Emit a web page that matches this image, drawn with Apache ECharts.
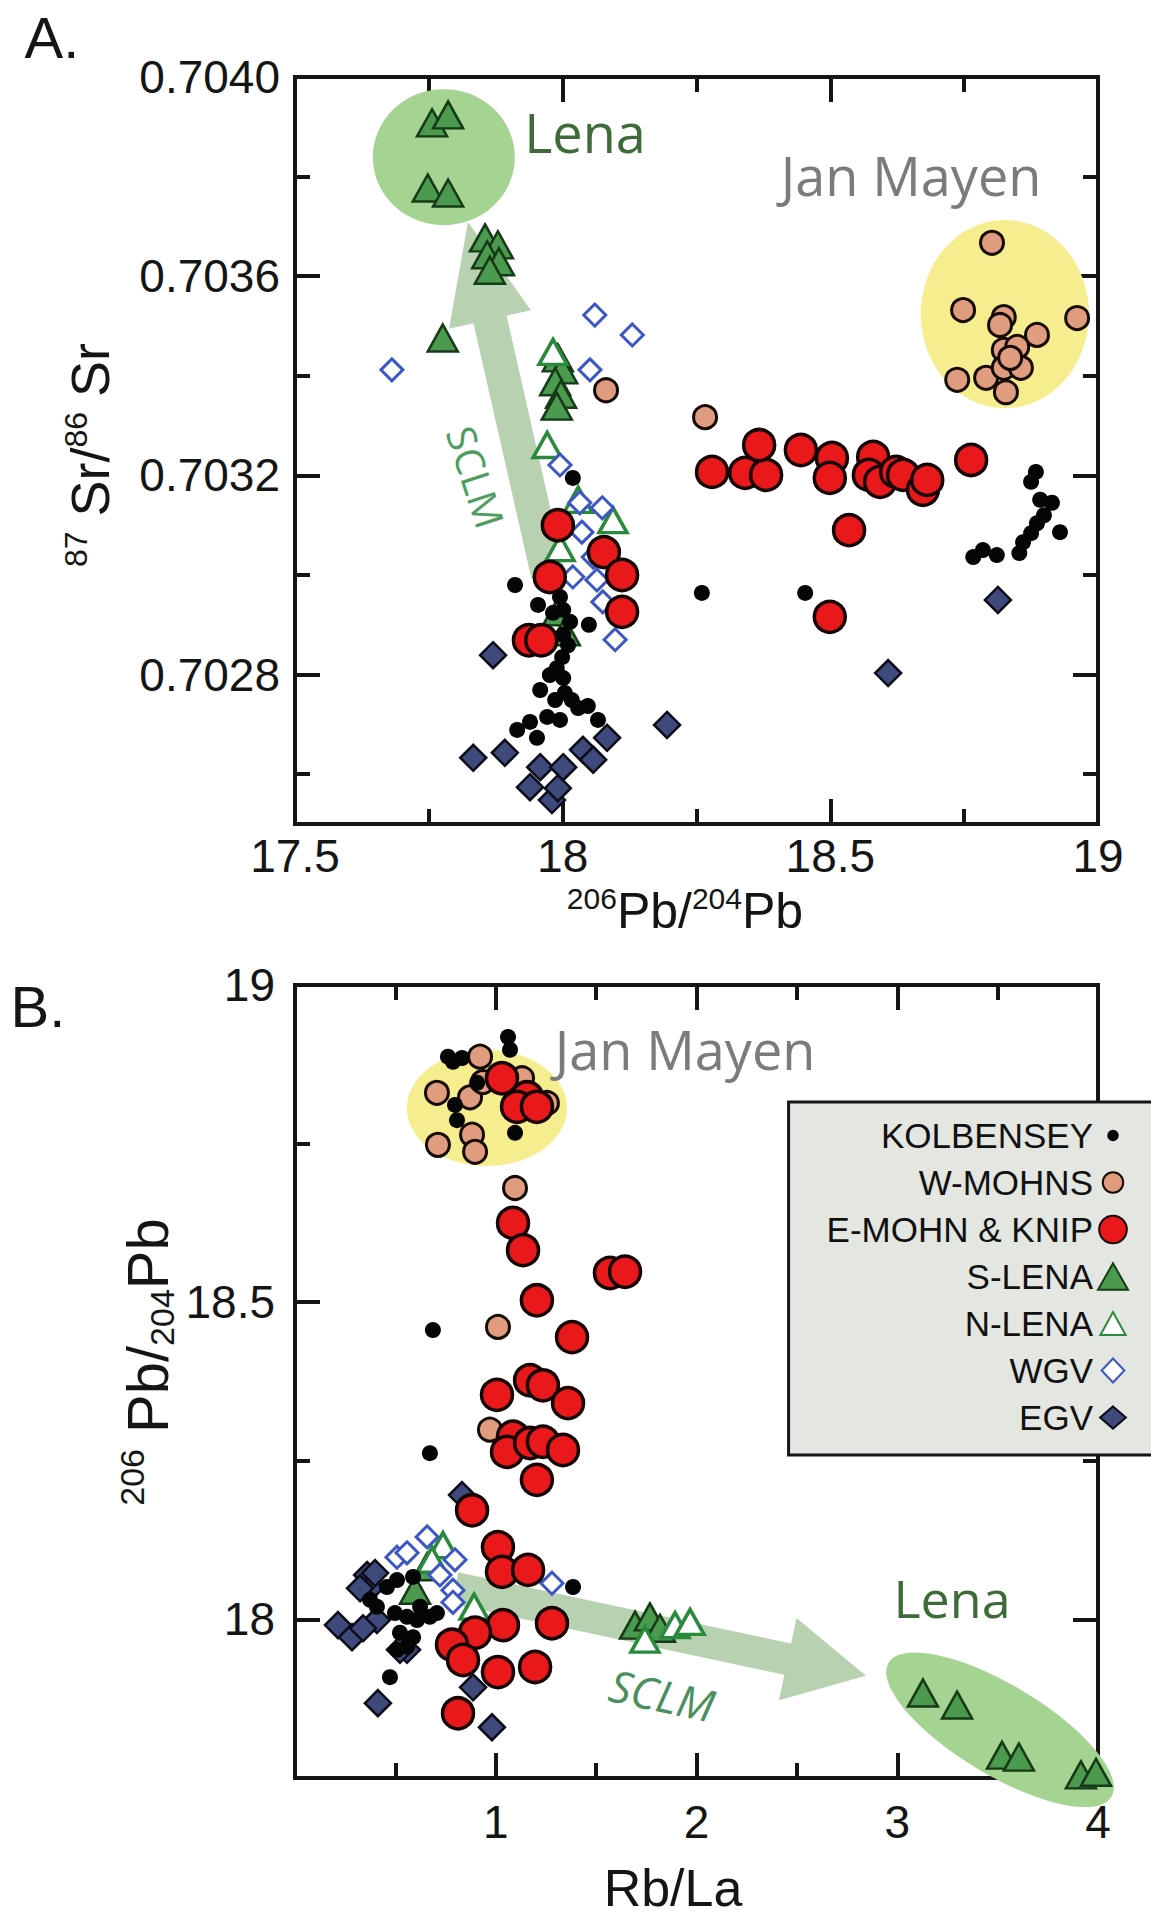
<!DOCTYPE html>
<html>
<head>
<meta charset="utf-8">
<script src="https://cdn.jsdelivr.net/npm/echarts@6/dist/echarts.min.js"></script>
<style>
  html, body { margin: 0; padding: 0; background: #fff; }
  #chart { width: 1151px; height: 1917px; }
</style>
</head>
<body>
<div id="chart"></div>
<script>
/* Sr–Pb 同位素雙圖（A: 206Pb/204Pb–87Sr/86Sr，B: Rb/La–206Pb/204Pb）
 * 數值皆由原圖目測讀出；註記（圈、箭頭）以資料座標給定，經軸換算成像素。
 */
(function () {
  "use strict";

  // ── 資料：A 圖 [206Pb/204Pb, 87Sr/86Sr] ──────────────────
  var aKolbensey = [
    [18.019, 0.703195], [17.911, 0.702980], [17.954, 0.702940], [17.995, 0.702956], [18.049, 0.702900],
    [17.982, 0.702924], [18.001, 0.702930], [18.014, 0.702906], [18.001, 0.702880], [18.010, 0.702859],
    [17.999, 0.702835], [17.989, 0.702813], [17.976, 0.702799], [17.958, 0.702769], [18.001, 0.702793],
    [18.004, 0.702763], [18.017, 0.702749], [18.029, 0.702733], [18.047, 0.702737], [17.971, 0.702715],
    [17.939, 0.702705], [17.915, 0.702689], [17.952, 0.702673], [18.066, 0.702709], [17.995, 0.702709],
    [17.986, 0.702749],
    [18.260, 0.702964], [18.453, 0.702964], [18.767, 0.703036], [18.785, 0.703050], [18.811, 0.703040],
    [18.853, 0.703044], [18.860, 0.703066], [18.875, 0.703084], [18.886, 0.703104], [18.899, 0.703120],
    [18.892, 0.703151], [18.914, 0.703145], [18.929, 0.703086], [18.875, 0.703187], [18.884, 0.703207]
  ];
  var aWMohns = [
    [18.802, 0.703667], [18.748, 0.703532], [18.824, 0.703518], [18.817, 0.703502], [18.886, 0.703482],
    [18.961, 0.703516], [18.824, 0.703452], [18.849, 0.703458], [18.737, 0.703392], [18.791, 0.703396],
    [18.824, 0.703416], [18.856, 0.703416], [18.828, 0.703367], [18.836, 0.703436], [18.081, 0.703371],
    [18.266, 0.703317]
  ];
  var aEMohn = [
    [18.279, 0.703207], [18.341, 0.703205], [18.380, 0.703201], [18.367, 0.703261], [18.445, 0.703251],
    [18.503, 0.703235], [18.499, 0.703195], [18.580, 0.703237], [18.572, 0.703201], [18.593, 0.703187],
    [18.623, 0.703207], [18.636, 0.703201], [18.673, 0.703171], [18.681, 0.703191], [18.763, 0.703231],
    [18.535, 0.703090], [18.499, 0.702916], [17.991, 0.703100], [18.077, 0.703046], [17.976, 0.702996],
    [18.111, 0.703000], [18.111, 0.702926], [17.937, 0.702869], [17.960, 0.702869]
  ];
  var aSLena = [
    [17.756, 0.703908], [17.786, 0.703924], [17.748, 0.703777], [17.786, 0.703767], [17.855, 0.703677],
    [17.879, 0.703663], [17.859, 0.703643], [17.881, 0.703629], [17.864, 0.703612], [17.776, 0.703476],
    [17.991, 0.703436], [17.999, 0.703412], [17.986, 0.703388], [17.997, 0.703363], [17.989, 0.703339],
    [17.991, 0.702926], [18.004, 0.702886]
  ];
  var aNLena = [
    [17.971, 0.703261], [17.995, 0.703054], [18.094, 0.703110], [18.029, 0.703151], [17.982, 0.703448]
  ];
  var aWgv = [
    [17.681, 0.703412], [18.060, 0.703522], [18.130, 0.703482], [18.051, 0.703412], [17.995, 0.703221],
    [18.032, 0.703145], [18.074, 0.703135], [18.036, 0.703086], [18.057, 0.703036], [18.064, 0.702990],
    [18.075, 0.702946], [18.098, 0.702870], [18.019, 0.702996]
  ];
  var aEgv = [
    [17.870, 0.702839], [17.833, 0.702633], [17.892, 0.702643], [17.939, 0.702574], [17.980, 0.702548],
    [17.958, 0.702614], [17.991, 0.702572], [18.001, 0.702614], [18.038, 0.702649], [18.057, 0.702629],
    [18.083, 0.702673], [18.195, 0.702699], [18.608, 0.702803], [18.813, 0.702950]
  ];

  // ── 資料：B 圖 [Rb/La, 206Pb/204Pb] ──────────────────
  var bKolbensey = [
    [1.061, 18.918], [1.071, 18.898], [0.762, 18.887], [0.787, 18.879], [0.832, 18.885], [0.797, 18.811],
    [0.807, 18.787], [1.096, 18.767], [0.907, 18.846], [0.687, 18.456], [0.672, 18.262], [1.385, 18.051],
    [0.473, 17.909], [0.508, 18.062], [0.374, 18.031], [0.498, 18.010], [0.558, 18.004], [0.608, 17.999],
    [0.672, 18.004], [0.707, 18.010], [0.523, 17.979], [0.588, 17.972], [0.558, 17.957], [0.508, 17.952],
    [0.623, 18.020], [0.588, 18.067], [0.458, 18.051], [0.408, 18.020]
  ];
  var bWMohns = [
    [0.922, 18.887], [0.707, 18.830], [0.872, 18.823], [0.936, 18.847], [1.131, 18.853], [1.255, 18.814],
    [0.882, 18.764], [0.897, 18.737], [0.712, 18.748], [1.096, 18.680], [1.011, 18.461], [0.971, 18.299]
  ];
  var bEMohn = [
    [1.031, 18.853], [1.156, 18.823], [1.106, 18.808], [1.205, 18.808], [1.086, 18.625], [1.136, 18.582],
    [1.205, 18.503], [1.380, 18.445], [1.569, 18.546], [1.644, 18.548], [1.171, 18.377], [1.235, 18.369],
    [1.006, 18.354], [1.360, 18.341], [1.086, 18.288], [1.056, 18.264], [1.171, 18.278], [1.235, 18.280],
    [1.335, 18.267], [1.205, 18.220], [0.882, 18.172], [1.011, 18.114], [1.031, 18.075], [1.161, 18.078],
    [1.280, 17.994], [1.036, 17.991], [0.897, 17.979], [0.782, 17.960], [0.837, 17.936], [1.011, 17.917],
    [1.196, 17.925], [0.812, 17.852]
  ];
  var bSLena = [
    [0.658, 18.083], [0.598, 18.046], [1.694, 17.991], [1.768, 18.004], [1.818, 17.986], [3.128, 17.884],
    [3.298, 17.865], [3.522, 17.786], [3.606, 17.783], [3.915, 17.755], [3.990, 17.759]
  ];
  var bNLena = [
    [0.737, 18.117], [0.892, 18.020], [0.682, 18.094], [1.743, 17.968], [1.893, 17.991], [1.968, 17.996]
  ];
  var bWgv = [
    [0.658, 18.130], [0.797, 18.094], [0.508, 18.098], [0.558, 18.105], [0.787, 18.046], [0.787, 18.027],
    [1.280, 18.057], [0.722, 18.070]
  ];
  var bEgv = [
    [0.832, 18.196], [0.359, 18.070], [0.374, 18.049], [0.324, 18.049], [0.408, 17.999], [0.214, 17.991],
    [0.284, 17.972], [0.339, 17.986], [0.558, 17.952], [0.523, 17.952], [0.887, 17.893], [0.413, 17.868],
    [0.981, 17.830], [0.399, 18.073]
  ];

  // ── 軸範圍與刻度 ──────────────────
  var aXRange = [17.5, 19], aYRange = [0.7025, 0.7040];
  var aXMajor = [17.5, 18, 18.5, 19], aXMinor = [17.75, 18.25, 18.75];
  var aYMajor = [0.7028, 0.7032, 0.7036, 0.7040], aYMinor = [0.7026, 0.7030, 0.7034, 0.7038];
  var bXRange = [0, 4], bYRange = [17.75, 19];
  var bXMajor = [1, 2, 3, 4], bXMinor = [0.5, 1.5, 2.5, 3.5];
  var bYMajor = [18, 18.5, 19], bYMinor = [18.25, 18.75];

  // ── 註記（資料座標）：圈 [cx, cy, rx, ry, 傾角°]、箭頭 [尾x, 尾y, 頭x, 頭y] ──
  var aEllipses = [[17.778, 0.703839, 0.1326, 0.0001365, 0], [18.826, 0.703524, 0.157, 0.0001888, 0]];
  var bEllipses = [[0.956, 18.806, 0.3985, 0.0914, 0], [3.512, 17.826, 0.6476, 0.0709, 31]];
  var aArrow = [[17.9726, 0.70300, 17.823, 0.703709]];
  var bArrow = [[0.797, 18.0495, 2.844, 17.911]];

  var seriesNames = ["KOLBENSEY", "W-MOHNS", "E-MOHN & KNIP", "S-LENA", "N-LENA", "WGV", "EGV"];

  // ── 樣式 ──────────────────
  var INK = "#151515";
  var SANS = "'Liberation Sans', Arial, Helvetica, sans-serif";
  var HUMAN = "'Open Sans', 'Noto Sans', sans-serif";
  var GREEN_FILL = "#a4d392", YELLOW_FILL = "#f6ed8f", ARROW = "#b8d2b1";

  var STYLE = {
    "KOLBENSEY":     { symbol: "circle",   size: 16,       itemStyle: { color: "#050505", opacity: 1 } },
    "W-MOHNS":       { symbol: "circle",   size: 23,       itemStyle: { color: "#df9c7f", borderColor: "#140a06", borderWidth: 3, opacity: 1 } },
    "E-MOHN & KNIP": { symbol: "circle",   size: 31,       itemStyle: { color: "#e8181b", borderColor: "#160404", borderWidth: 3.5, opacity: 1 } },
    "S-LENA":        { symbol: "triangle", size: [30, 27], itemStyle: { color: "#4b9a50", borderColor: "#163a16", borderWidth: 2.5, opacity: 1 } },
    "N-LENA":        { symbol: "triangle", size: [28, 25], itemStyle: { color: "#ffffff", borderColor: "#2a8a3c", borderWidth: 3.5, opacity: 1 } },
    "WGV":           { symbol: "diamond",  size: 22,       itemStyle: { color: "#ffffff", borderColor: "#3c56c6", borderWidth: 3, opacity: 1 } },
    "EGV":           { symbol: "diamond",  size: 26,       itemStyle: { color: "#3d4a7b", borderColor: "#0c0c18", borderWidth: 2.5, opacity: 1 } }
  };

  // 圖例圖示：在 100×100 框內畫不同大小（M0 0 M100 100 撐住外框）
  function circ(r) { return "path://M0 0M100 100M" + (50 - r) + " 50A" + r + " " + r + " 0 1 1 " + (50 + r) + " 50A" + r + " " + r + " 0 1 1 " + (50 - r) + " 50Z"; }
  function tri(w, h) { return "path://M0 0M100 100M50 " + (50 - h / 2) + "L" + (50 + w / 2) + " " + (50 + h / 2) + "L" + (50 - w / 2) + " " + (50 + h / 2) + "Z"; }
  function dia(w, h) { return "path://M0 0M100 100M50 " + (50 - h / 2) + "L" + (50 + w / 2) + " 50L50 " + (50 + h / 2) + "L" + (50 - w / 2) + " 50Z"; }
  var legendIcons = [circ(19), circ(34), circ(46), tri(100, 88), tri(84, 76), dia(76, 80), dia(86, 74)];

  // ── 軸：每邊兩支（長刻度含標籤 / 短刻度），上、右各再兩支 ──
  function axis(grid, pos, range, ticks, len, line, label) {
    var ax = {
      type: "value", gridIndex: grid, position: pos, min: range[0], max: range[1], silent: true,
      axisLine: { show: line, onZero: false, lineStyle: { color: INK, width: 4, cap: "square" } },
      axisTick: { show: true, inside: true, length: len, customValues: ticks, lineStyle: { color: INK, width: 4 } },
      axisLabel: { show: false }, splitLine: { show: false }, minorTick: { show: false }
    };
    if (label) ax.axisLabel = Object.assign({ show: true, color: INK, fontFamily: SANS, fontSize: 46 }, label);
    return ax;
  }
  function axesFor(grid, range, major, minor, near, far, label) {
    return [
      axis(grid, near, range, major, 25, true, label),
      axis(grid, near, range, minor, 15, false),
      axis(grid, far, range, major, 25, true),
      axis(grid, far, range, minor, 15, false)
    ];
  }

  var xAxes = [].concat(
    axesFor(0, aXRange, aXMajor, aXMinor, "bottom", "top", { customValues: aXMajor, margin: 9 }),
    axesFor(1, bXRange, bXMajor, bXMinor, "bottom", "top", { customValues: bXMajor, margin: 21 })
  );
  var yAxes = [].concat(
    axesFor(0, aYRange, aYMajor, aYMinor, "left", "right",
      { customValues: aYMajor, margin: 15, formatter: function (v) { return v.toFixed(4); } }),
    axesFor(1, bYRange, bYMajor, bYMinor, "left", "right", { customValues: bYMajor, margin: 20 })
  );

  // ── 系列 ──────────────────
  function scatter(name, data, ax) {
    var s = STYLE[name];
    return { name: name, type: "scatter", data: data, xAxisIndex: ax, yAxisIndex: ax,
      symbol: s.symbol, symbolSize: s.size, itemStyle: s.itemStyle, z: 3, clip: false, silent: true };
  }
  function ellipses(data, colors, ax) {
    return { type: "custom", data: data, xAxisIndex: ax, yAxisIndex: ax, z: 1, silent: true, clip: false,
      renderItem: function (params, api) {
        var c = api.coord([api.value(0), api.value(1)]);
        var s = api.size([api.value(2), api.value(3)]);
        return { type: "circle", x: c[0], y: c[1], rotation: -api.value(4) * Math.PI / 180,
          scaleX: 1, scaleY: s[1] / s[0], shape: { cx: 0, cy: 0, r: s[0] },
          style: { fill: colors[params.dataIndex] } };
      } };
  }
  function arrow(data, dims, ax) {
    return { type: "custom", data: data, xAxisIndex: ax, yAxisIndex: ax, z: 1, silent: true, clip: false,
      renderItem: function (params, api) {
        var p0 = api.coord([api.value(0), api.value(1)]), p1 = api.coord([api.value(2), api.value(3)]);
        var dx = p1[0] - p0[0], dy = p1[1] - p0[1], L = Math.sqrt(dx * dx + dy * dy);
        var ux = dx / L, uy = dy / L, nx = -uy, ny = ux;
        var bx = p1[0] - ux * dims.head, by = p1[1] - uy * dims.head;
        var sw = dims.shaft, hw = dims.wing;
        return { type: "polygon", shape: { points: [
          [p0[0] + nx * sw, p0[1] + ny * sw], [bx + nx * sw, by + ny * sw], [bx + nx * hw, by + ny * hw],
          [p1[0], p1[1]],
          [bx - nx * hw, by - ny * hw], [bx - nx * sw, by - ny * sw], [p0[0] - nx * sw, p0[1] - ny * sw]
        ] }, style: { fill: ARROW } };
      } };
  }

  var order = [
    ["EGV", aEgv, bEgv], ["S-LENA", aSLena, bSLena], ["N-LENA", aNLena, bNLena], ["WGV", aWgv, bWgv],
    ["W-MOHNS", aWMohns, bWMohns], ["KOLBENSEY", aKolbensey, bKolbensey], ["E-MOHN & KNIP", aEMohn, bEMohn]
  ];
  var series = [
    ellipses(aEllipses, [GREEN_FILL, YELLOW_FILL], 0),
    arrow(aArrow, { shaft: 17, head: 100, wing: 42 }, 0),
    ellipses(bEllipses, [YELLOW_FILL, GREEN_FILL], 4),
    arrow(bArrow, { shaft: 16, head: 80, wing: 42 }, 4)
  ];
  order.forEach(function (o) { series.push(scatter(o[0], o[1], 0)); });
  order.forEach(function (o) { series.push(scatter(o[0], o[2], 4)); });

  // ── 文字註記 ──────────────────
  function txt(x, y, text, size, fill, extra) {
    var st = Object.assign({ text: text, fontSize: size, fontFamily: HUMAN, fill: fill,
      align: "center", verticalAlign: "middle", textAlign: "center", textVerticalAlign: "middle" }, (extra && extra.style) || {});
    return { type: "text", x: x, y: y, rotation: (extra && extra.rotation) || 0, z: 20, silent: true, style: st };
  }
  var sup = function (fs, lh) { return { fontSize: fs, fontFamily: SANS, fill: INK, verticalAlign: "top", lineHeight: lh }; };
  var graphics = [
    txt(52, 37, "A.", 58, INK, { style: { fontFamily: SANS } }),
    txt(38, 1006, "B.", 58, INK, { style: { fontFamily: SANS } }),
    txt(585, 132, "Lena", 54, "#3f6b3a"),
    txt(911, 175, "Jan Mayen", 54, "#7b7b7b"),
    txt(476, 477, "SCLM", 40, "#4f9d62", { rotation: -72 * Math.PI / 180 }),
    txt(685, 1049, "Jan Mayen", 54, "#7b7b7b"),
    txt(952, 1597, "Lena", 52, "#3f6b3a"),
    txt(662, 1695, "SCLM", 44, "#4b8f5e", { rotation: -12 * Math.PI / 180, style: { fontStyle: "italic" } }),
    // 軸標題
    txt(90, 455, "{s|87} Sr/{s|86} Sr", 54, INK, { rotation: Math.PI / 2,
      style: { fontFamily: SANS, lineHeight: 60, rich: { s: sup(32, 30) } } }),
    txt(685, 911, "{s|206}Pb/{s|204}Pb", 50, INK,
      { style: { fontFamily: SANS, lineHeight: 56, rich: { s: sup(30, 28) } } }),
    txt(147, 1362, "{s|206} Pb/{b|204}Pb", 58, INK, { rotation: Math.PI / 2,
      style: { fontFamily: SANS, lineHeight: 64, rich: { s: sup(34, 32),
        b: { fontSize: 34, fontFamily: SANS, fill: INK, verticalAlign: "bottom", lineHeight: 40 } } } }),
    txt(673, 1888, "Rb/La", 52, INK, { style: { fontFamily: SANS } })
  ];

  var option = {
    animation: false,
    backgroundColor: "#ffffff",
    textStyle: { fontFamily: SANS },
    grid: [
      { left: 295, top: 77, width: 803, height: 747, containLabel: false },
      { left: 295, top: 985, width: 803, height: 793, containLabel: false }
    ],
    xAxis: xAxes,
    yAxis: yAxes,
    legend: {
      data: seriesNames.map(function (n, i) { return { name: n, icon: legendIcons[i] }; }),
      orient: "vertical", align: "right", right: -6, top: 1102,
      padding: [16, 28, 20, 38], itemWidth: 30, itemHeight: 30, itemGap: 12,
      backgroundColor: "#e3e6e1", borderColor: INK, borderWidth: 3,
      textStyle: { fontFamily: SANS, fontSize: 35, color: "#111", lineHeight: 30 },
      selectedMode: false, z: 10
    },
    graphic: { elements: graphics },
    series: series
  };

  var chart = echarts.init(document.getElementById("chart"), null, { renderer: "svg" });
  chart.setOption(option);
})();
</script>
</body>
</html>
